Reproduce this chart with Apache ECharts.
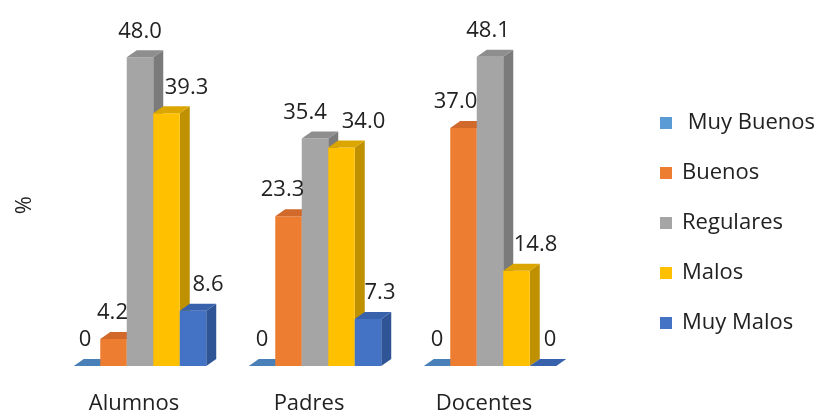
<!DOCTYPE html>
<html>
<head>
<meta charset="utf-8">
<script src="https://cdn.jsdelivr.net/npm/echarts@6/dist/echarts.min.js"></script>
<style>
  html, body { margin: 0; padding: 0; background: #ffffff; }
  #chart { width: 819px; height: 416px; }
</style>
</head>
<body>
<div id="chart"></div>
<script>
// Survey groups and the percentage per rating
const categories = ['Alumnos', 'Padres', 'Docentes'];
const seriesNames = [' Muy Buenos', 'Buenos', 'Regulares', 'Malos', 'Muy Malos'];
const muyBuenos = [0, 0, 0];
const buenos = [4.2, 23.3, 37.0];
const regulares = [48.0, 35.4, 48.1];
const malos = [39.3, 34.0, 14.8];
const muyMalos = [8.6, 7.3, 0];
const seriesValues = [muyBuenos, buenos, regulares, malos, muyMalos];

// Face shading for each series: front, side, top
const faceColors = [
  { front: '#5B9BD5', side: '#41719C', top: '#4A80B8' },
  { front: '#ED7D31', side: '#B85B1F', top: '#D0692A' },
  { front: '#A5A5A5', side: '#7B7B7B', top: '#8E8E8E' },
  { front: '#FFC000', side: '#BF9000', top: '#DCA600' },
  { front: '#4472C4', side: '#2F5597', top: '#3862AC' }
];

// Horizontal nudges (px) that keep value labels clear of neighbouring prisms
const labelNudge = [
  [-2, 0, 0],
  [-1, -6, -8],
  [0, -10, -2],
  [20, 22, 19],
  [15, 12, 7]
];

const BAR_RATIO = 0.1514;   // bar width as a share of the category band
const DEPTH_X = 10;         // extrusion offset of the prism, px
const DEPTH_Y = -7;
const FONT = "'Open Sans', 'Noto Sans', sans-serif";

function fmt(v) {
  return v === 0 ? '0' : v.toFixed(1);
}

function renderPrism(params, api) {
  const ci = api.value(0);
  const v = api.value(1);
  const base = api.coord([ci, 0]);
  const topPt = api.coord([ci, v]);
  const band = api.size([1, 0])[0];
  const w = band * BAR_RATIO;
  const x0 = base[0] + (params.seriesIndex - 2.5) * w;
  const x1 = x0 + w;
  const yb = base[1];
  const yt = topPt[1];
  const c = faceColors[params.seriesIndex];
  const children = [];
  if (v > 0) {
    children.push({
      type: 'polygon',
      shape: { points: [[x1, yt], [x1 + DEPTH_X, yt + DEPTH_Y], [x1 + DEPTH_X, yb + DEPTH_Y], [x1, yb]] },
      style: { fill: c.side }
    });
    children.push({
      type: 'rect',
      shape: { x: x0, y: yt, width: w, height: yb - yt },
      style: { fill: c.front }
    });
  }
  children.push({
    type: 'polygon',
    shape: { points: [[x0, yt], [x1, yt], [x1 + DEPTH_X, yt + DEPTH_Y], [x0 + DEPTH_X, yt + DEPTH_Y]] },
    style: { fill: c.top }
  });
  children.push({
    type: 'text',
    z2: 10,
    style: {
      text: fmt(v),
      x: x0 + w / 2 + labelNudge[params.seriesIndex][ci],
      y: yt - 15,
      align: 'center',
      verticalAlign: 'bottom',
      fill: '#222222',
      font: '22px ' + FONT
    }
  });
  return { type: 'group', children: children };
}

const series = seriesNames.map(function (name, i) {
  return {
    name: name,
    type: 'custom',
    renderItem: renderPrism,
    itemStyle: { color: faceColors[i].front },
    encode: { x: 0, y: 1 },
    data: seriesValues[i].map(function (v, k) { return [k, v]; })
  };
});

const chart = echarts.init(document.getElementById('chart'), null, { renderer: 'canvas' });
chart.setOption({
  backgroundColor: '#ffffff',
  animation: false,
  textStyle: { fontFamily: FONT },
  grid: { left: 52.5, right: 241.5, top: 44.5, bottom: 50 },
  legend: {
    orient: 'vertical',
    left: 655,
    top: 107,
    itemWidth: 12,
    itemHeight: 12,
    itemGap: 28,
    icon: 'rect',
    data: seriesNames,
    textStyle: { fontSize: 22, lineHeight: 22, color: '#222222', padding: [0, 0, 0, 5] }
  },
  xAxis: {
    type: 'category',
    data: categories,
    axisLine: { show: false },
    axisTick: { show: false },
    axisLabel: { fontSize: 22, color: '#222222', margin: 27, padding: [0, 12, 0, 0] }
  },
  yAxis: {
    type: 'value',
    min: 0,
    max: 50,
    name: '%',
    nameLocation: 'middle',
    nameRotate: 90,
    nameGap: 17,
    nameTextStyle: { fontSize: 22, color: '#222222' },
    axisLine: { show: false },
    axisTick: { show: false },
    axisLabel: { show: false },
    splitLine: { show: false }
  },
  series: series
});
</script>
</body>
</html>
